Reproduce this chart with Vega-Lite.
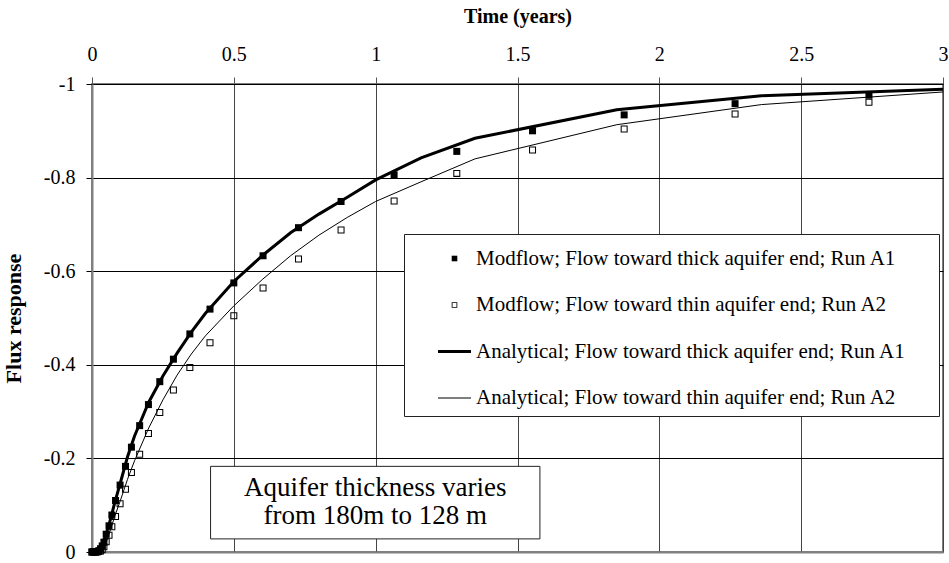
{
  "$schema": "https://vega.github.io/schema/vega-lite/v6.json",
  "width": 851,
  "height": 468,
  "autosize": "none",
  "padding": {"left": 92, "top": 84, "right": 6, "bottom": 11},
  "background": "white",
  "config": {
    "font": "Liberation Serif",
    "view": {"stroke": "#808080", "strokeWidth": 2},
    "axis": {
      "labelFont": "Liberation Serif",
      "titleFont": "Liberation Serif",
      "labelColor": "black",
      "titleColor": "black",
      "labelFontSize": 20,
      "titleFontSize": 20,
      "titleFontWeight": "bold"
    }
  },
  "datasets": {
    "modflow": [
      {"series": "Modflow; Flow toward thick aquifer end; Run A1", "t": 0.000, "flux": 0},
      {"series": "Modflow; Flow toward thick aquifer end; Run A1", "t": 0.006, "flux": 0},
      {"series": "Modflow; Flow toward thick aquifer end; Run A1", "t": 0.012, "flux": 0},
      {"series": "Modflow; Flow toward thick aquifer end; Run A1", "t": 0.018, "flux": -0.001},
      {"series": "Modflow; Flow toward thick aquifer end; Run A1", "t": 0.024, "flux": -0.003},
      {"series": "Modflow; Flow toward thick aquifer end; Run A1", "t": 0.030, "flux": -0.007},
      {"series": "Modflow; Flow toward thick aquifer end; Run A1", "t": 0.036, "flux": -0.013},
      {"series": "Modflow; Flow toward thick aquifer end; Run A1", "t": 0.042, "flux": -0.021},
      {"series": "Modflow; Flow toward thick aquifer end; Run A1", "t": 0.050, "flux": -0.038},
      {"series": "Modflow; Flow toward thick aquifer end; Run A1", "t": 0.060, "flux": -0.056},
      {"series": "Modflow; Flow toward thick aquifer end; Run A1", "t": 0.070, "flux": -0.079},
      {"series": "Modflow; Flow toward thick aquifer end; Run A1", "t": 0.083, "flux": -0.110},
      {"series": "Modflow; Flow toward thick aquifer end; Run A1", "t": 0.099, "flux": -0.143},
      {"series": "Modflow; Flow toward thick aquifer end; Run A1", "t": 0.118, "flux": -0.183},
      {"series": "Modflow; Flow toward thick aquifer end; Run A1", "t": 0.139, "flux": -0.224},
      {"series": "Modflow; Flow toward thick aquifer end; Run A1", "t": 0.168, "flux": -0.270},
      {"series": "Modflow; Flow toward thick aquifer end; Run A1", "t": 0.199, "flux": -0.315},
      {"series": "Modflow; Flow toward thick aquifer end; Run A1", "t": 0.239, "flux": -0.364},
      {"series": "Modflow; Flow toward thick aquifer end; Run A1", "t": 0.287, "flux": -0.412},
      {"series": "Modflow; Flow toward thick aquifer end; Run A1", "t": 0.345, "flux": -0.466},
      {"series": "Modflow; Flow toward thick aquifer end; Run A1", "t": 0.416, "flux": -0.519},
      {"series": "Modflow; Flow toward thick aquifer end; Run A1", "t": 0.500, "flux": -0.575},
      {"series": "Modflow; Flow toward thick aquifer end; Run A1", "t": 0.603, "flux": -0.633},
      {"series": "Modflow; Flow toward thick aquifer end; Run A1", "t": 0.728, "flux": -0.693},
      {"series": "Modflow; Flow toward thick aquifer end; Run A1", "t": 0.878, "flux": -0.749},
      {"series": "Modflow; Flow toward thick aquifer end; Run A1", "t": 1.065, "flux": -0.806},
      {"series": "Modflow; Flow toward thick aquifer end; Run A1", "t": 1.286, "flux": -0.856},
      {"series": "Modflow; Flow toward thick aquifer end; Run A1", "t": 1.553, "flux": -0.900},
      {"series": "Modflow; Flow toward thick aquifer end; Run A1", "t": 1.876, "flux": -0.934},
      {"series": "Modflow; Flow toward thick aquifer end; Run A1", "t": 2.267, "flux": -0.958},
      {"series": "Modflow; Flow toward thick aquifer end; Run A1", "t": 2.739, "flux": -0.976},
      {"series": "Modflow; Flow toward thin aquifer end; Run A2", "t": 0.000, "flux": 0},
      {"series": "Modflow; Flow toward thin aquifer end; Run A2", "t": 0.006, "flux": 0},
      {"series": "Modflow; Flow toward thin aquifer end; Run A2", "t": 0.012, "flux": 0},
      {"series": "Modflow; Flow toward thin aquifer end; Run A2", "t": 0.018, "flux": 0},
      {"series": "Modflow; Flow toward thin aquifer end; Run A2", "t": 0.024, "flux": -0.001},
      {"series": "Modflow; Flow toward thin aquifer end; Run A2", "t": 0.030, "flux": -0.002},
      {"series": "Modflow; Flow toward thin aquifer end; Run A2", "t": 0.036, "flux": -0.005},
      {"series": "Modflow; Flow toward thin aquifer end; Run A2", "t": 0.042, "flux": -0.011},
      {"series": "Modflow; Flow toward thin aquifer end; Run A2", "t": 0.050, "flux": -0.022},
      {"series": "Modflow; Flow toward thin aquifer end; Run A2", "t": 0.060, "flux": -0.036},
      {"series": "Modflow; Flow toward thin aquifer end; Run A2", "t": 0.070, "flux": -0.054},
      {"series": "Modflow; Flow toward thin aquifer end; Run A2", "t": 0.083, "flux": -0.076},
      {"series": "Modflow; Flow toward thin aquifer end; Run A2", "t": 0.099, "flux": -0.103},
      {"series": "Modflow; Flow toward thin aquifer end; Run A2", "t": 0.118, "flux": -0.134},
      {"series": "Modflow; Flow toward thin aquifer end; Run A2", "t": 0.139, "flux": -0.170},
      {"series": "Modflow; Flow toward thin aquifer end; Run A2", "t": 0.168, "flux": -0.209},
      {"series": "Modflow; Flow toward thin aquifer end; Run A2", "t": 0.199, "flux": -0.253},
      {"series": "Modflow; Flow toward thin aquifer end; Run A2", "t": 0.239, "flux": -0.298},
      {"series": "Modflow; Flow toward thin aquifer end; Run A2", "t": 0.287, "flux": -0.346},
      {"series": "Modflow; Flow toward thin aquifer end; Run A2", "t": 0.345, "flux": -0.394},
      {"series": "Modflow; Flow toward thin aquifer end; Run A2", "t": 0.416, "flux": -0.447},
      {"series": "Modflow; Flow toward thin aquifer end; Run A2", "t": 0.500, "flux": -0.505},
      {"series": "Modflow; Flow toward thin aquifer end; Run A2", "t": 0.603, "flux": -0.564},
      {"series": "Modflow; Flow toward thin aquifer end; Run A2", "t": 0.728, "flux": -0.626},
      {"series": "Modflow; Flow toward thin aquifer end; Run A2", "t": 0.878, "flux": -0.688},
      {"series": "Modflow; Flow toward thin aquifer end; Run A2", "t": 1.065, "flux": -0.750},
      {"series": "Modflow; Flow toward thin aquifer end; Run A2", "t": 1.286, "flux": -0.809},
      {"series": "Modflow; Flow toward thin aquifer end; Run A2", "t": 1.553, "flux": -0.859},
      {"series": "Modflow; Flow toward thin aquifer end; Run A2", "t": 1.876, "flux": -0.904},
      {"series": "Modflow; Flow toward thin aquifer end; Run A2", "t": 2.267, "flux": -0.936},
      {"series": "Modflow; Flow toward thin aquifer end; Run A2", "t": 2.739, "flux": -0.961}
    ],
    "analytical": [
      {"series": "Analytical; Flow toward thick aquifer end; Run A1", "t": 0.00, "flux": 0},
      {"series": "Analytical; Flow toward thick aquifer end; Run A1", "t": 0.02, "flux": 0},
      {"series": "Analytical; Flow toward thick aquifer end; Run A1", "t": 0.03, "flux": -0.006},
      {"series": "Analytical; Flow toward thick aquifer end; Run A1", "t": 0.04, "flux": -0.020},
      {"series": "Analytical; Flow toward thick aquifer end; Run A1", "t": 0.05, "flux": -0.040},
      {"series": "Analytical; Flow toward thick aquifer end; Run A1", "t": 0.06, "flux": -0.058},
      {"series": "Analytical; Flow toward thick aquifer end; Run A1", "t": 0.08, "flux": -0.105},
      {"series": "Analytical; Flow toward thick aquifer end; Run A1", "t": 0.10, "flux": -0.148},
      {"series": "Analytical; Flow toward thick aquifer end; Run A1", "t": 0.125, "flux": -0.203},
      {"series": "Analytical; Flow toward thick aquifer end; Run A1", "t": 0.15, "flux": -0.248},
      {"series": "Analytical; Flow toward thick aquifer end; Run A1", "t": 0.20, "flux": -0.320},
      {"series": "Analytical; Flow toward thick aquifer end; Run A1", "t": 0.25, "flux": -0.376},
      {"series": "Analytical; Flow toward thick aquifer end; Run A1", "t": 0.30, "flux": -0.425},
      {"series": "Analytical; Flow toward thick aquifer end; Run A1", "t": 0.35, "flux": -0.470},
      {"series": "Analytical; Flow toward thick aquifer end; Run A1", "t": 0.40, "flux": -0.510},
      {"series": "Analytical; Flow toward thick aquifer end; Run A1", "t": 0.50, "flux": -0.578},
      {"series": "Analytical; Flow toward thick aquifer end; Run A1", "t": 0.60, "flux": -0.633},
      {"series": "Analytical; Flow toward thick aquifer end; Run A1", "t": 0.70, "flux": -0.682},
      {"series": "Analytical; Flow toward thick aquifer end; Run A1", "t": 0.80, "flux": -0.722},
      {"series": "Analytical; Flow toward thick aquifer end; Run A1", "t": 0.90, "flux": -0.758},
      {"series": "Analytical; Flow toward thick aquifer end; Run A1", "t": 1.00, "flux": -0.795},
      {"series": "Analytical; Flow toward thick aquifer end; Run A1", "t": 1.16, "flux": -0.842},
      {"series": "Analytical; Flow toward thick aquifer end; Run A1", "t": 1.35, "flux": -0.884},
      {"series": "Analytical; Flow toward thick aquifer end; Run A1", "t": 1.85, "flux": -0.945},
      {"series": "Analytical; Flow toward thick aquifer end; Run A1", "t": 2.36, "flux": -0.975},
      {"series": "Analytical; Flow toward thick aquifer end; Run A1", "t": 3.00, "flux": -0.989},
      {"series": "Analytical; Flow toward thin aquifer end; Run A2", "t": 0.00, "flux": 0},
      {"series": "Analytical; Flow toward thin aquifer end; Run A2", "t": 0.03, "flux": 0},
      {"series": "Analytical; Flow toward thin aquifer end; Run A2", "t": 0.04, "flux": -0.005},
      {"series": "Analytical; Flow toward thin aquifer end; Run A2", "t": 0.05, "flux": -0.020},
      {"series": "Analytical; Flow toward thin aquifer end; Run A2", "t": 0.06, "flux": -0.038},
      {"series": "Analytical; Flow toward thin aquifer end; Run A2", "t": 0.08, "flux": -0.076},
      {"series": "Analytical; Flow toward thin aquifer end; Run A2", "t": 0.10, "flux": -0.110},
      {"series": "Analytical; Flow toward thin aquifer end; Run A2", "t": 0.125, "flux": -0.155},
      {"series": "Analytical; Flow toward thin aquifer end; Run A2", "t": 0.15, "flux": -0.195},
      {"series": "Analytical; Flow toward thin aquifer end; Run A2", "t": 0.20, "flux": -0.265},
      {"series": "Analytical; Flow toward thin aquifer end; Run A2", "t": 0.25, "flux": -0.325},
      {"series": "Analytical; Flow toward thin aquifer end; Run A2", "t": 0.30, "flux": -0.378},
      {"series": "Analytical; Flow toward thin aquifer end; Run A2", "t": 0.35, "flux": -0.423},
      {"series": "Analytical; Flow toward thin aquifer end; Run A2", "t": 0.40, "flux": -0.462},
      {"series": "Analytical; Flow toward thin aquifer end; Run A2", "t": 0.50, "flux": -0.526},
      {"series": "Analytical; Flow toward thin aquifer end; Run A2", "t": 0.60, "flux": -0.582},
      {"series": "Analytical; Flow toward thin aquifer end; Run A2", "t": 0.70, "flux": -0.633},
      {"series": "Analytical; Flow toward thin aquifer end; Run A2", "t": 0.80, "flux": -0.677},
      {"series": "Analytical; Flow toward thin aquifer end; Run A2", "t": 0.90, "flux": -0.715},
      {"series": "Analytical; Flow toward thin aquifer end; Run A2", "t": 1.00, "flux": -0.749},
      {"series": "Analytical; Flow toward thin aquifer end; Run A2", "t": 1.16, "flux": -0.791},
      {"series": "Analytical; Flow toward thin aquifer end; Run A2", "t": 1.35, "flux": -0.840},
      {"series": "Analytical; Flow toward thin aquifer end; Run A2", "t": 1.85, "flux": -0.913},
      {"series": "Analytical; Flow toward thin aquifer end; Run A2", "t": 2.36, "flux": -0.956},
      {"series": "Analytical; Flow toward thin aquifer end; Run A2", "t": 3.00, "flux": -0.983}
    ],
    "note": [
      {"label": "Aquifer thickness varies\nfrom 180m to 128 m"}
    ]
  },
  "layer": [
    {
      "data": {"name": "analytical"},
      "mark": {"type": "line", "color": "black", "clip": true},
      "encoding": {
        "x": {
          "field": "t", "type": "quantitative",
          "scale": {"domain": [0, 3], "nice": false, "zero": false},
          "axis": {
            "orient": "top",
            "title": "Time (years)",
            "values": [0, 0.5, 1, 1.5, 2, 2.5, 3],
            "format": "~g",
            "grid": true,
            "gridColor": "#444444",
            "gridWidth": 1,
            "gridOpacity": 1,
            "domain": true,
            "domainColor": "black",
            "domainWidth": 1,
            "ticks": true,
            "tickSize": 7,
            "tickColor": "#555555",
            "labelPadding": 13,
            "titlePadding": 18,
            "labelFlush": false
          }
        },
        "y": {
          "field": "flux", "type": "quantitative",
          "scale": {"domain": [-1, 0], "reverse": true, "nice": false, "zero": false},
          "axis": {
            "title": "Flux response",
            "titleFontSize": 22,
            "values": [-1, -0.8, -0.6, -0.4, -0.2, 0],
            "labelExpr": "datum.value === 0 ? '0' : '-' + format(abs(datum.value), '~g')",
            "grid": true,
            "gridColor": {"condition": {"test": "datum.value === 0", "value": "#808080"}, "value": "black"},
            "gridWidth": {"condition": {"test": "datum.value === 0", "value": 2}, "value": 1},
            "gridOpacity": 1,
            "domain": true,
            "domainColor": "#808080",
            "domainWidth": 2,
            "ticks": true,
            "tickSize": 6,
            "tickColor": "black",
            "labelPadding": 11,
            "titlePadding": 18,
            "labelFlush": false
          }
        },
        "detail": {"field": "series"},
        "strokeWidth": {
          "field": "series",
          "scale": {
            "domain": ["Analytical; Flow toward thick aquifer end; Run A1", "Analytical; Flow toward thin aquifer end; Run A2"],
            "range": [3, 1]
          },
          "legend": null
        }
      }
    },
    {
      "data": {"name": "modflow"},
      "mark": {"type": "point", "filled": true, "color": "black", "strokeWidth": 0, "size": 1700, "opacity": 1},
      "encoding": {
        "x": {"field": "t", "type": "quantitative"},
        "y": {"field": "flux", "type": "quantitative"},
        "shape": {
          "field": "series",
          "scale": {
            "domain": [
              "Modflow; Flow toward thick aquifer end; Run A1",
              "Modflow; Flow toward thin aquifer end; Run A2",
              "Analytical; Flow toward thick aquifer end; Run A1",
              "Analytical; Flow toward thin aquifer end; Run A2"
            ],
            "range": [
              "M-0.17,-0.17H0.17V0.17H-0.17Z",
              "M-0.17,-0.17H0.17V0.17H-0.17Z M-0.12,-0.12V0.12H0.12V-0.12Z",
              "M-1,-0.09H1V0.09H-1Z",
              "M-1,-0.03H1V0.03H-1Z"
            ]
          },
          "legend": {
            "title": "\u00a0",
            "titleOrient": "right",
            "titleFontSize": 20,
            "titlePadding": 25,
            "orient": "none",
            "legendX": 312,
            "legendY": 150,
            "direction": "vertical",
            "strokeColor": "#222222",
            "fillColor": "white",
            "padding": 8,
            "symbolOffset": 26,
            "symbolSize": 1089,
            "symbolFillColor": "black",
            "symbolStrokeWidth": 0,
            "symbolOpacity": 1,
            "labelFont": "Liberation Serif",
            "labelFontSize": 21,
            "labelColor": "black",
            "labelLimit": 600,
            "labelOffset": 5,
            "rowPadding": 19.5
          }
        }
      }
    },
    {
      "data": {"name": "note"},
      "mark": {"type": "rect", "fill": "white", "stroke": "#222222", "strokeWidth": 1},
      "encoding": {
        "x": {"datum": 0.418, "type": "quantitative"},
        "x2": {"datum": 1.579},
        "y": {"datum": -0.183, "type": "quantitative"},
        "y2": {"datum": -0.028}
      }
    },
    {
      "data": {"name": "note"},
      "transform": [{"calculate": "split(datum.label, '\\n')", "as": "lines"}],
      "mark": {
        "type": "text",
        "font": "Liberation Serif",
        "fontSize": 27,
        "lineHeight": 28,
        "align": "center",
        "baseline": "alphabetic",
        "color": "black"
      },
      "encoding": {
        "x": {"datum": 0.9985, "type": "quantitative"},
        "y": {"datum": -0.120, "type": "quantitative"},
        "text": {"field": "lines"}
      }
    }
  ]
}
